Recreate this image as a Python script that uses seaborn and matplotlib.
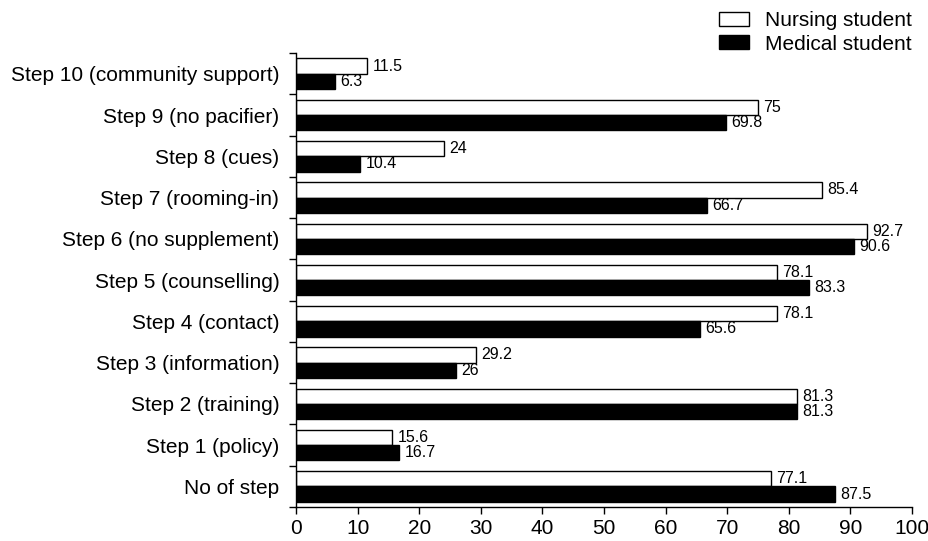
"""
Grouped horizontal bars: Ten Steps knowledge, nursing vs medical students
"""
import matplotlib.pyplot as plt
import numpy as np
import pandas as pd
import seaborn as sns

sns.set_theme(style="ticks")
plt.rcParams["font.family"] = ["Liberation Sans", "DejaVu Sans"]
plt.rcParams.update({"text.color": "black", "xtick.color": "black",
                     "ytick.color": "black", "axes.labelcolor": "black"})

STEPS = [
    "Step 10 (community support)",
    "Step 9 (no pacifier)",
    "Step 8 (cues)",
    "Step 7 (rooming-in)",
    "Step 6 (no supplement)",
    "Step 5 (counselling)",
    "Step 4 (contact)",
    "Step 3 (information)",
    "Step 2 (training)",
    "Step 1 (policy)",
    "No of step",
]
NURSING = [11.5, 75, 24, 85.4, 92.7, 78.1, 78.1, 29.2, 81.3, 15.6, 77.1]
MEDICAL = [6.3, 69.8, 10.4, 66.7, 90.6, 83.3, 65.6, 26, 81.3, 16.7, 87.5]
GROUPS = ["Nursing student", "Medical student"]


def build_frame():
    """long-form table for seaborn"""
    return pd.DataFrame({
        "step": STEPS * 2,
        "pct": NURSING + MEDICAL,
        "group": [GROUPS[0]] * len(STEPS) + [GROUPS[1]] * len(STEPS),
    })


def main():
    df = build_frame()
    fig = plt.figure(figsize=(9.29, 5.41), dpi=100)
    ax = fig.add_axes([0.3186, 0.0628, 0.663, 0.839])

    sns.barplot(data=df, y="step", x="pct", hue="group", order=STEPS,
                hue_order=GROUPS, palette=["white", "black"], orient="h",
                width=0.74, edgecolor="black", linewidth=1, ax=ax,
                legend=True, errorbar=None)

    for cont in ax.containers:
        ax.bar_label(cont, labels=[f"{v:g}" for v in cont.datavalues],
                     padding=4, fontsize=11.5, color="black")

    ax.set_xlim(0, 100)
    ax.set_ylim(len(STEPS) - 0.5, -0.5)
    ax.set_xticks(np.arange(0, 101, 10))
    ax.set_yticks(np.arange(-0.5, len(STEPS), 1), minor=True)
    ax.tick_params(axis="y", which="major", length=0, labelsize=15, pad=12)
    ax.tick_params(axis="y", which="minor", length=5, width=1, color="black")
    ax.tick_params(axis="x", length=5, width=1, color="black", labelsize=15)
    ax.set_xlabel("")
    ax.set_ylabel("")
    sns.despine(ax=ax)
    for sp in ax.spines.values():
        sp.set_color("black")
        sp.set_linewidth(1)

    handles, labels = ax.get_legend_handles_labels()
    ax.get_legend().remove()
    fig.legend(handles, labels, loc="upper right", bbox_to_anchor=(0.982, 0.979),
               frameon=False, fontsize=15, handlelength=1.44, handleheight=0.67,
               handletextpad=0.8, labelspacing=0.2, borderaxespad=0,
               borderpad=0, labelcolor="black")

    fig.savefig("out.png", dpi=100)


if __name__ == "__main__":
    main()
